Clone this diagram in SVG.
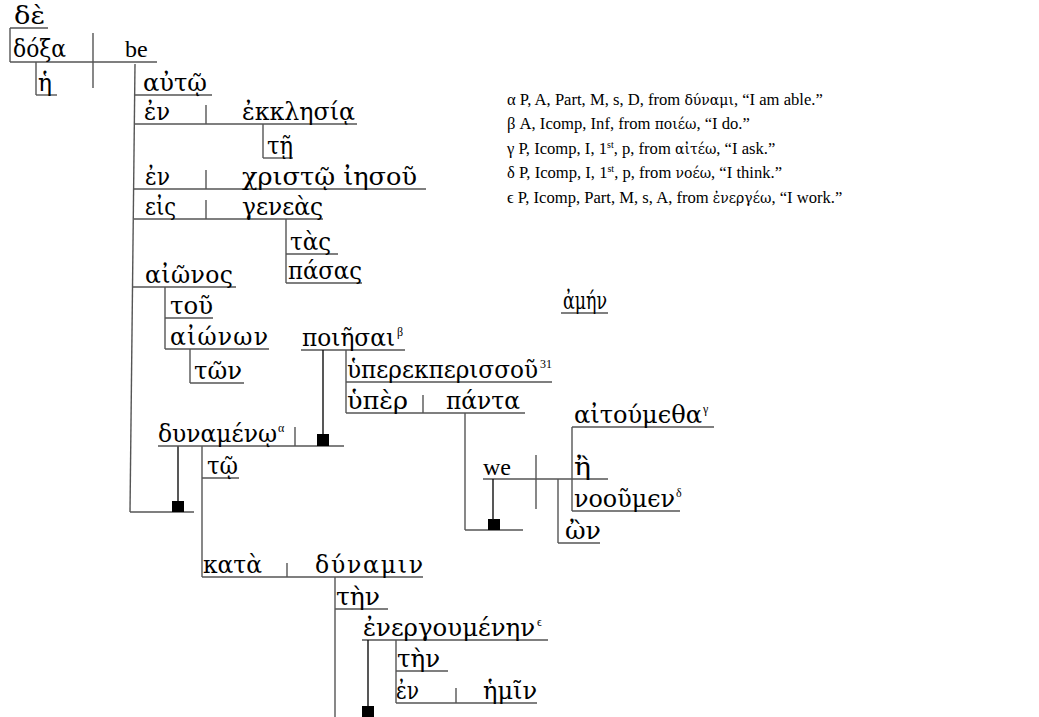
<svg xmlns="http://www.w3.org/2000/svg" width="1039" height="717" viewBox="0 0 1039 717">
<style>
  .w { font-family: "DejaVu Serif", "Liberation Serif", serif; font-size: 23.5px; fill: #000; }
  .lat { font-family: "Liberation Serif", serif; font-size: 24px; fill: #000; }
  .sup { font-family: "Liberation Serif", serif; font-size: 12px; fill: #000; }
  .note { font-family: "Liberation Serif", serif; font-size: 16.6px; fill: #000; }
  .note .g { font-family: "DejaVu Serif", serif; font-size: 14px; }
  .note .s { font-size: 10px; }
  .rule line { stroke: #555; stroke-width: 1.4; }
  .rule line.k { stroke: #111; }
  .rule rect { fill: #000; }
</style>
<rect width="1039" height="717" fill="#fff"/>

<!-- rules: baselines, dividers, stems and attachment squares -->
<g id="connectors" class="rule">
  <line x1="10" y1="28" x2="48" y2="28"/>
  <line x1="10" y1="28" x2="10" y2="62"/>
  <line x1="10" y1="62" x2="157" y2="62"/>
  <line x1="93" y1="33" x2="93" y2="88"/>
  <line x1="36" y1="62" x2="36" y2="95"/>
  <line x1="36" y1="95" x2="57" y2="95"/>
  <line x1="135" y1="64" x2="130" y2="512"/>
  <line x1="135" y1="95" x2="212" y2="95"/>
  <line x1="135" y1="124" x2="357" y2="124"/>
  <line x1="206" y1="105" x2="206" y2="124"/>
  <line x1="263" y1="124" x2="263" y2="158"/>
  <line x1="263" y1="158" x2="293" y2="158"/>
  <line x1="134" y1="189" x2="426" y2="189"/>
  <line x1="206" y1="170" x2="206" y2="189"/>
  <line x1="134" y1="219" x2="323" y2="219"/>
  <line x1="206" y1="200" x2="206" y2="219"/>
  <line x1="286" y1="219" x2="286" y2="283"/>
  <line x1="286" y1="254" x2="338" y2="254"/>
  <line x1="286" y1="283" x2="362" y2="283"/>
  <line x1="133" y1="287" x2="236" y2="287"/>
  <line x1="165" y1="287" x2="165" y2="349"/>
  <line x1="165" y1="318" x2="213" y2="318"/>
  <line x1="165" y1="349" x2="269" y2="349"/>
  <line x1="190" y1="349" x2="190" y2="383"/>
  <line x1="190" y1="383" x2="244" y2="383"/>
  <line x1="130" y1="512" x2="194" y2="512"/>
  <line class="k" x1="178" y1="446" x2="178" y2="502"/>
  <rect x="172" y="501" width="12" height="11"/>
  <line x1="158" y1="446" x2="344" y2="446"/>
  <line x1="295" y1="427" x2="295" y2="446"/>
  <line x1="301" y1="350" x2="405" y2="350"/>
  <line class="k" x1="323" y1="350" x2="323" y2="435"/>
  <rect x="317" y="434" width="12" height="12"/>
  <line x1="346" y1="350" x2="346" y2="413"/>
  <line x1="346" y1="382" x2="552" y2="382"/>
  <line x1="346" y1="413" x2="525" y2="413"/>
  <line x1="423" y1="395" x2="423" y2="413"/>
  <line x1="465" y1="413" x2="465" y2="530"/>
  <line x1="465" y1="530" x2="523" y2="530"/>
  <rect x="488" y="519" width="12" height="11"/>
  <line x1="483" y1="479" x2="608" y2="479"/>
  <line class="k" x1="493" y1="479" x2="493" y2="520"/>
  <line x1="536" y1="455" x2="536" y2="509"/>
  <line x1="558" y1="479" x2="558" y2="543"/>
  <line x1="558" y1="543" x2="600" y2="543"/>
  <line x1="572" y1="427" x2="572" y2="511"/>
  <line x1="572" y1="427" x2="714" y2="427"/>
  <line x1="572" y1="511" x2="680" y2="511"/>
  <line x1="202" y1="446" x2="202" y2="577"/>
  <line x1="202" y1="478" x2="239" y2="478"/>
  <line x1="202" y1="577" x2="423" y2="577"/>
  <line x1="287" y1="563" x2="287" y2="577"/>
  <line x1="335" y1="577" x2="335" y2="717"/>
  <line x1="335" y1="609" x2="388" y2="609"/>
  <line x1="362" y1="640" x2="548" y2="640"/>
  <line class="k" x1="368" y1="640" x2="368" y2="707"/>
  <rect x="362" y="706" width="12" height="11"/>
  <line x1="396" y1="640" x2="396" y2="703"/>
  <line x1="396" y1="671" x2="448" y2="671"/>
  <line x1="396" y1="703" x2="537" y2="703"/>
  <line x1="456" y1="688" x2="456" y2="703"/>
  <line x1="561" y1="313" x2="608" y2="313"/>
</g>

<!-- words -->
<g id="n-de"><text class="w" x="14" y="24" textLength="31" lengthAdjust="spacingAndGlyphs">δὲ</text></g>
<g id="n-doxa"><text class="w" x="13" y="57" textLength="53" lengthAdjust="spacingAndGlyphs">δόξα</text></g>
<g id="n-be"><text class="lat" x="125" y="57">be</text></g>
<g id="n-he"><text class="w" x="38" y="91" textLength="14" lengthAdjust="spacingAndGlyphs">ἡ</text></g>
<g id="n-auto"><text class="w" x="143" y="91" textLength="64" lengthAdjust="spacingAndGlyphs">αὐτῷ</text></g>
<g id="n-en1"><text class="w" x="144" y="120" textLength="26" lengthAdjust="spacingAndGlyphs">ἐν</text></g>
<g id="n-ekklesia"><text class="w" x="242" y="120" textLength="113" lengthAdjust="spacingAndGlyphs">ἐκκλησίᾳ</text></g>
<g id="n-te"><text class="w" x="267" y="154" textLength="26" lengthAdjust="spacingAndGlyphs">τῇ</text></g>
<g id="n-en2"><text class="w" x="145" y="185" textLength="25" lengthAdjust="spacingAndGlyphs">ἐν</text></g>
<g id="n-christo"><text class="w" x="242" y="185" textLength="175" lengthAdjust="spacingAndGlyphs">χριστῷ ἰησοῦ</text></g>
<g id="n-eis"><text class="w" x="145" y="215" textLength="31" lengthAdjust="spacingAndGlyphs">εἰς</text></g>
<g id="n-geneas"><text class="w" x="242" y="215" textLength="81" lengthAdjust="spacingAndGlyphs">γενεὰς</text></g>
<g id="n-tas"><text class="w" x="290" y="250" textLength="41" lengthAdjust="spacingAndGlyphs">τὰς</text></g>
<g id="n-pasas"><text class="w" x="288" y="279" textLength="74" lengthAdjust="spacingAndGlyphs">πάσας</text></g>
<g id="n-aionos"><text class="w" x="145" y="283" textLength="88" lengthAdjust="spacing">αἰῶνος</text></g>
<g id="n-tou"><text class="w" x="170" y="314" textLength="43" lengthAdjust="spacingAndGlyphs">τοῦ</text></g>
<g id="n-aionon"><text class="w" x="170" y="345" textLength="98" lengthAdjust="spacing">αἰώνων</text></g>
<g id="n-ton"><text class="w" x="194" y="379" textLength="48" lengthAdjust="spacingAndGlyphs">τῶν</text></g>
<g id="n-poiesai">
  <text class="w" x="302" y="346" textLength="93" lengthAdjust="spacingAndGlyphs">ποιῆσαι</text>
  <text class="sup" x="397" y="336">β</text>
</g>
<g id="n-hyperek">
  <text class="w" x="347" y="378" textLength="191" lengthAdjust="spacingAndGlyphs">ὑπερεκπερισσοῦ</text>
  <text class="sup" x="540" y="368">31</text>
</g>
<g id="n-hyper"><text class="w" x="347" y="409" textLength="61" lengthAdjust="spacingAndGlyphs">ὑπὲρ</text></g>
<g id="n-panta"><text class="w" x="446" y="409" textLength="74" lengthAdjust="spacingAndGlyphs">πάντα</text></g>
<g id="n-dynameno">
  <text class="w" x="158" y="442" textLength="119" lengthAdjust="spacingAndGlyphs">δυναμένῳ</text>
  <text class="sup" x="278" y="432">α</text>
</g>
<g id="n-to"><text class="w" x="207" y="474" textLength="31" lengthAdjust="spacingAndGlyphs">τῷ</text></g>
<g id="n-we"><text class="lat" x="483" y="475">we</text></g>
<g id="n-aitoumetha">
  <text class="w" x="574" y="423" textLength="128" lengthAdjust="spacingAndGlyphs">αἰτούμϵθα</text>
  <text class="sup" x="703" y="413">γ</text>
</g>
<g id="n-e"><text class="w" x="574" y="475" textLength="17" lengthAdjust="spacingAndGlyphs">ἢ</text></g>
<g id="n-nooumen">
  <text class="w" x="574" y="507" textLength="101" lengthAdjust="spacingAndGlyphs">νοοῦμϵν</text>
  <text class="sup" x="676" y="497">δ</text>
</g>
<g id="n-on"><text class="w" x="565" y="539" textLength="36" lengthAdjust="spacingAndGlyphs">ὢν</text></g>
<g id="n-kata"><text class="w" x="203" y="573" textLength="59" lengthAdjust="spacingAndGlyphs">κατὰ</text></g>
<g id="n-dynamin"><text class="w" x="315" y="573" textLength="108" lengthAdjust="spacing">δύναμιν</text></g>
<g id="n-ten1"><text class="w" x="336" y="605" textLength="44" lengthAdjust="spacingAndGlyphs">τὴν</text></g>
<g id="n-energoumenen">
  <text class="w" x="363" y="636" textLength="172" lengthAdjust="spacingAndGlyphs">ἐνεργουμένην</text>
  <text class="sup" x="537" y="626">ϵ</text>
</g>
<g id="n-ten2"><text class="w" x="397" y="667" textLength="43" lengthAdjust="spacingAndGlyphs">τὴν</text></g>
<g id="n-en3"><text class="w" x="396" y="699" textLength="23" lengthAdjust="spacingAndGlyphs">ἐν</text></g>
<g id="n-hemin"><text class="w" x="483" y="699" textLength="54" lengthAdjust="spacingAndGlyphs">ἡμῖν</text></g>
<g id="n-amen"><text class="w" x="563" y="309" textLength="44" lengthAdjust="spacingAndGlyphs">ἀμήν</text></g>

<!-- parsing notes -->
<g id="notes" class="note">
  <text x="507" y="105">α P, A, Part, M, s, D, from <tspan class="g">δύναμι</tspan>, “I am able.”</text>
  <text x="507" y="129">β A, Icomp, Inf, from <tspan class="g">ποιέω</tspan>, “I do.”</text>
  <text x="507" y="154">γ P, Icomp, I, 1<tspan class="s" dy="-6">st</tspan><tspan dy="6">, p, from </tspan><tspan class="g">αἰτέω</tspan>, “I ask.”</text>
  <text x="507" y="178">δ P, Icomp, I, 1<tspan class="s" dy="-6">st</tspan><tspan dy="6">, p, from </tspan><tspan class="g">νοέω</tspan>, “I think.”</text>
  <text x="507" y="203">ϵ P, Icomp, Part, M, s, A, from <tspan class="g">ἐνεργέω</tspan>, “I work.”</text>
</g>
</svg>
